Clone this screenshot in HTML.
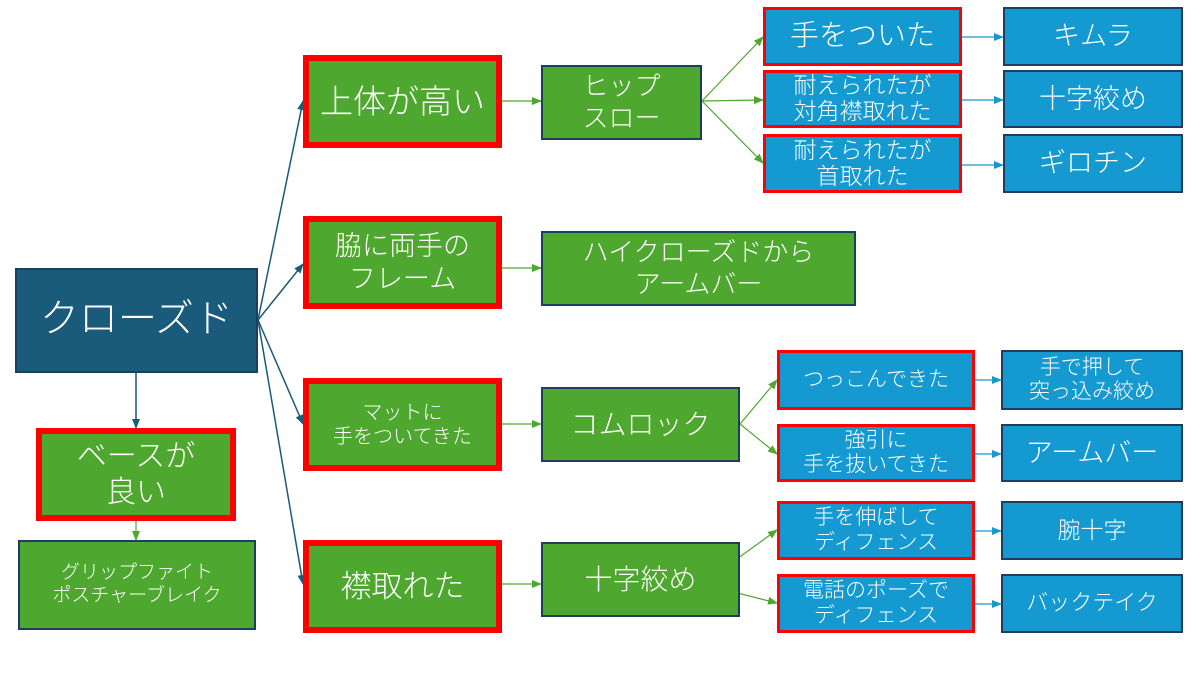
<!DOCTYPE html>
<html><head><meta charset="utf-8"><style>
body{margin:0;width:1200px;height:675px;background:#fff;position:relative;overflow:hidden;font-family:"Liberation Sans","Noto Sans CJK JP",sans-serif;font-weight:300;}
.b{position:absolute;box-sizing:border-box;display:flex;align-items:center;justify-content:center;text-align:center;color:#fff;line-height:1.2;}
.g{background:#4ea72e;border:2px solid #1f3d5c;}
.gr{background:#4ea72e;border:6px solid #ff0000;}
.bl{background:#1499d0;border:2px solid #1f3d5c;}
.br{background:#1499d0;border:3px solid #ff0000;}
svg{position:absolute;left:0;top:0;}
</style></head><body>
<svg width="1200" height="675">
<defs>
<marker id="d" markerUnits="userSpaceOnUse" markerWidth="10" markerHeight="10" refX="9" refY="5" orient="auto"><path d="M0,1 L10,5 L0,9z" fill="#1a5a7a"/></marker>
<marker id="gm" markerUnits="userSpaceOnUse" markerWidth="10" markerHeight="10" refX="9" refY="5" orient="auto"><path d="M0,1 L10,5 L0,9z" fill="#4ea72e"/></marker>
<marker id="bm" markerUnits="userSpaceOnUse" markerWidth="10" markerHeight="10" refX="9" refY="5" orient="auto"><path d="M0,1 L10,5 L0,9z" fill="#1499d0"/></marker>
</defs>
<g stroke="#1a5a7a" stroke-width="1.5" marker-end="url(#d)">
<line x1="258" y1="320" x2="303" y2="101"/><line x1="258" y1="320" x2="303" y2="264"/>
<line x1="258" y1="320" x2="303" y2="424"/><line x1="258" y1="320" x2="303" y2="584"/>
<line x1="136" y1="373" x2="136" y2="428"/>
</g>
<g stroke="#4ea72e" stroke-width="1.2" marker-end="url(#gm)">
<line x1="136" y1="521" x2="136" y2="540"/>
<line x1="502" y1="101" x2="541" y2="101"/><line x1="502" y1="268" x2="541" y2="268"/>
<line x1="502" y1="424" x2="541" y2="424"/><line x1="502" y1="584" x2="541" y2="584"/>
<line x1="702" y1="101" x2="763" y2="37"/><line x1="702" y1="101" x2="763" y2="100"/><line x1="702" y1="101" x2="763" y2="163"/>
<line x1="740" y1="424" x2="777" y2="380"/><line x1="740" y1="424" x2="777" y2="454"/>
<line x1="702" y1="584" x2="777" y2="530"/><line x1="702" y1="584" x2="777" y2="603"/>
</g>
<g stroke="#1499d0" stroke-width="1.2" marker-end="url(#bm)">
<line x1="962" y1="37" x2="1003" y2="37"/><line x1="962" y1="100" x2="1003" y2="100"/><line x1="962" y1="165" x2="1003" y2="165"/>
<line x1="975" y1="380" x2="1001" y2="380"/><line x1="975" y1="454" x2="1001" y2="454"/>
<line x1="975" y1="531" x2="1001" y2="531"/><line x1="975" y1="604" x2="1001" y2="604"/>
</g>
</svg>
<div class="b" style="left:15px;top:268px;width:243px;height:105px;background:#1a5a7a;border:2px solid #1f3d5c;font-size:39px;">クローズド</div>
<div class="b gr" style="left:36px;top:428px;width:200px;height:93px;font-size:30px;">ベースが<br>良い</div>
<div class="b g" style="left:18px;top:540px;width:238px;height:90px;font-size:19px;">グリップファイト<br>ポスチャーブレイク</div>

<div class="b gr" style="left:303px;top:55px;width:199px;height:93px;font-size:33px;">上体が高い</div>
<div class="b gr" style="left:303px;top:216px;width:199px;height:93px;font-size:27px;">脇に両手の<br>フレーム</div>
<div class="b gr" style="left:303px;top:378px;width:199px;height:93px;font-size:20px;">マットに<br>手をついてきた</div>
<div class="b gr" style="left:303px;top:540px;width:199px;height:93px;font-size:31px;">襟取れた</div>

<div class="b g" style="left:541px;top:65px;width:161px;height:75px;font-size:26px;">ヒップ<br>スロー</div>
<div class="b g" style="left:541px;top:231px;width:315px;height:75px;font-size:26px;">ハイクローズドから<br>アームバー</div>
<div class="b g" style="left:541px;top:387px;width:199px;height:75px;font-size:28px;">コムロック</div>
<div class="b g" style="left:541px;top:542px;width:199px;height:75px;font-size:28px;">十字絞め</div>

<div class="b br" style="left:763px;top:7px;width:199px;height:59px;font-size:29px;">手をついた</div>
<div class="b br" style="left:763px;top:70px;width:199px;height:58px;font-size:23px;line-height:1.12;">耐えられたが<br>対角襟取れた</div>
<div class="b br" style="left:763px;top:134px;width:199px;height:59px;font-size:23px;line-height:1.12;">耐えられたが<br>首取れた</div>
<div class="b br" style="left:777px;top:350px;width:198px;height:60px;font-size:21px;">つっこんできた</div>
<div class="b br" style="left:777px;top:424px;width:198px;height:58px;font-size:21px;line-height:1.15;">強引に<br>手を抜いてきた</div>
<div class="b br" style="left:777px;top:501px;width:198px;height:59px;font-size:21px;line-height:1.15;">手を伸ばして<br>ディフェンス</div>
<div class="b br" style="left:777px;top:574px;width:198px;height:59px;font-size:21px;line-height:1.15;">電話のポーズで<br>ディフェンス</div>

<div class="b bl" style="left:1003px;top:7px;width:180px;height:59px;font-size:27px;">キムラ</div>
<div class="b bl" style="left:1003px;top:70px;width:180px;height:58px;font-size:27px;">十字絞め</div>
<div class="b bl" style="left:1003px;top:134px;width:180px;height:59px;font-size:27px;">ギロチン</div>
<div class="b bl" style="left:1001px;top:350px;width:182px;height:60px;font-size:21px;line-height:1.15;">手で押して<br>突っ込み絞め</div>
<div class="b bl" style="left:1001px;top:424px;width:182px;height:58px;font-size:27px;">アームバー</div>
<div class="b bl" style="left:1001px;top:501px;width:182px;height:59px;font-size:23px;">腕十字</div>
<div class="b bl" style="left:1001px;top:574px;width:182px;height:59px;font-size:22px;">バックテイク</div>
</body></html>
